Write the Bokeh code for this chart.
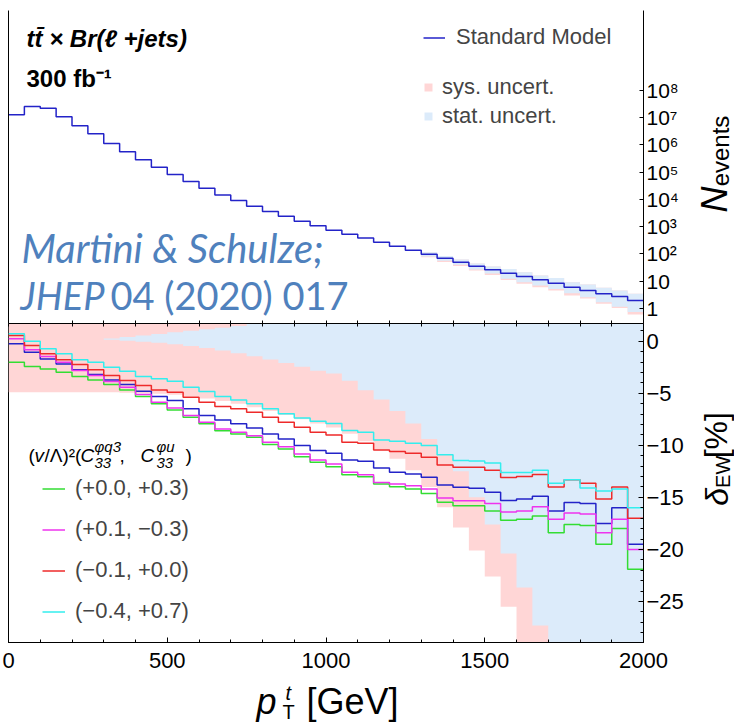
import math
from bokeh.plotting import figure
from bokeh.models import Range1d, LinearAxis, FixedTicker, Legend, LegendItem, Label
from bokeh.layouts import column, row
from bokeh.embed import file_html
from bokeh.resources import INLINE
from bokeh.core.properties import value

FONT = "Liberation Sans"

# ---------------- data ----------------
bin_edges = [0, 50, 100, 150, 200, 250, 300, 350, 400, 450, 500, 550, 600, 650, 700, 750,
             800, 850, 900, 950, 1000, 1050, 1100, 1150, 1200, 1250, 1300, 1350, 1400, 1450,
             1500, 1550, 1600, 1650, 1700, 1750, 1800, 1850, 1900, 1950, 2000]

# Standard Model event counts per bin (top panel)
sm_events = [1.26e7, 2.51e7, 2.19e7, 1.07e7, 5.0e6, 2.51e6, 1.12e6, 5.6e5, 2.8e5, 1.51e5,
             8.1e4, 4.5e4, 2.57e4, 1.45e4, 9.1e3, 5.6e3, 3.6e3, 2.4e3, 1.58e3, 1.07e3,
             740, 525, 380, 270, 190, 135, 98, 69, 50, 35.5,
             26.3, 19.5, 14.8, 11.2, 8.5, 6.0, 4.6, 3.5, 2.75, 1.95]

# uncertainty bands of the top panel (bins from 1300 GeV on)
band_edges = [1300, 1350, 1400, 1450, 1500, 1550, 1600, 1650, 1700, 1750, 1800, 1850, 1900, 1950, 2000]
sm_stat_hi = [115, 83, 62, 45, 34.7, 28.2, 21.4, 16.2, 13.2, 9.1, 7.6, 5.75, 4.6, 3.5]
sm_stat_lo = [81, 56, 40, 27, 19, 12.3, 9.1, 6.9, 5.2, 3.6, 2.6, 1.7, 1.17, 0.74]
sm_sys_lo = [76, 51, 36, 24.5, 17, 11, 8.1, 6.0, 4.6, 3.0, 2.3, 1.48, 1.05, 0.60]

# delta_EW [%] per bin (bottom panel)
delta_sm = [-0.25, -1.05, -1.70, -2.18, -2.75, -3.2, -3.72, -4.16, -4.8, -5.32,
            -5.70, -6.5, -7.14, -7.56, -7.94, -8.33, -8.91, -9.39, -10.03, -10.51,
            -10.77, -11.41, -11.53, -12.18, -12.59, -12.75, -13.07, -13.81, -14.03, -14.13,
            -14.5, -15.3, -15.15, -14.9, -16.3, -15.5, -15.6, -17.5, -16.0, -19.5]
delta_green = [-2.02, -2.43, -2.66, -2.98, -3.4, -3.72, -4.16, -4.68, -5.32, -6.02,
               -6.6, -7.3, -7.94, -8.59, -8.91, -9.23, -9.93, -10.35, -11.09, -11.63,
               -12.05, -12.82, -13.01, -13.72, -13.97, -14.2, -14.62, -15.48, -15.8, -15.8,
               -16.3, -17.2, -17.1, -16.8, -18.4, -17.6, -17.7, -19.5, -18.0, -21.9]
delta_magenta = [0.23, -0.83, -1.47, -2.02, -2.82, -3.3, -3.88, -4.42, -5.13, -5.86,
                 -6.41, -7.14, -7.78, -8.43, -8.75, -9.07, -9.71, -10.13, -10.83, -11.41,
                 -11.8, -12.59, -12.82, -13.56, -13.72, -13.88, -14.2, -15.06, -15.32, -15.32,
                 -15.6, -16.4, -16.3, -15.9, -17.1, -16.5, -16.6, -18.4, -17.1, -20.0]
delta_red = [0.55, -0.41, -1.21, -1.79, -2.24, -2.75, -3.3, -3.78, -4.26, -4.68,
             -4.90, -5.38, -5.86, -6.28, -6.5, -6.82, -7.3, -7.78, -8.27, -8.75,
             -9.0, -9.71, -9.8, -10.44, -10.6, -10.77, -11.15, -11.89, -12.11, -12.11,
             -12.4, -13.1, -13.0, -12.8, -14.0, -13.3, -13.65, -15.15, -14.0, -17.0]
delta_cyan = [0.71, 0.0, -0.73, -1.21, -1.79, -2.02, -2.5, -2.88, -3.4, -3.6,
              -3.84, -4.42, -4.84, -5.32, -5.64, -6.02, -6.5, -6.98, -7.37, -7.69,
              -7.9, -8.58, -8.75, -9.48, -9.6, -9.8, -10.03, -10.9, -11.47, -11.5,
              -11.7, -12.6, -12.6, -12.4, -13.65, -13.3, -14.1, -14.4, -14.2, -16.0]

# uncertainty bands of the bottom panel [%]
stat_lo = [0.05, 0.05, 0.05, 0.05, 0.05, 0.05, 0.15, 0.05, -0.05, -0.15,
           -0.3, -0.45, -0.65, -0.9, -1.15, -1.45, -1.75, -2.1, -2.45, -2.85,
           -3.1, -3.8, -4.7, -5.6, -6.7, -7.9, -9.4, -10.9, -12.5, -15.0,
           -17.6, -20.4, -23.65, -27.3, -31, -34, -37, -40, -43, -46]
stat_hi = [0.05, 0.05, 0.05, 0.05, 0.05, 0.05, 0.25, 0.4, 0.55, 0.7,
           0.87, 1.0, 1.15, 1.3, 1.45, 1.65, 1.9, 2.2, 2.5, 2.9,
           3.2, 3.8, 4.7, 5.6, 6.7, 7.9, 9.4, 10.9, 12.5, 15.0,
           17.6, 20.4, 23.65, 27.3, 31, 34, 37, 40, 43, 46]
sys_lo = [-4.9, -4.9, -4.9, -4.9, -4.9, -4.9, -4.9, -4.95, -5.0, -5.05,
          -5.15, -5.3, -5.5, -5.75, -6.0, -6.35, -6.7, -7.1, -7.5, -7.9,
          -8.3, -8.9, -9.6, -10.4, -11.3, -12.4, -14.0, -15.96, -17.9, -20.1,
          -22.6, -25.5, -30, -32, -34, -36, -38, -40, -42, -44]
sys_hi = [4.9, 4.9, 4.9, 4.9, 4.9, 4.9, 4.9, 4.95, 5.0, 5.05,
          5.15, 5.3, 5.5, 5.75, 6.0, 6.35, 6.7, 7.1, 7.5, 7.9,
          8.3, 8.9, 9.6, 10.4, 11.3, 12.4, 14.0, 15.96, 17.9, 20.1,
          22.6, 25.5, 30, 32, 34, 36, 38, 40, 42, 44]

series_labels = ["(+0.0, +0.3)", "(+0.1, \u22120.3)", "(\u22120.1, +0.0)", "(\u22120.4, +0.7)"]

x_ticks = [0, 500, 1000, 1500, 2000]
x_minor = [0, 100, 200, 300, 400, 500, 600, 700, 800, 900, 1000, 1100, 1200, 1300, 1400,
           1500, 1600, 1700, 1800, 1900, 2000]
y_top_ticks = [1, 10, 100, 1000, 10000, 100000, 1000000, 10000000, 100000000]
y_top_labels = ["1", "10", "10\u00b2", "10\u00b3", "10\u2074", "10\u2075", "10\u2076", "10\u2077", "10\u2078"]
y_bot_ticks = [-25, -20, -15, -10, -5, 0]
y_bot_labels = ["\u221225", "\u221220", "\u221215", "\u221210", "\u22125", "0"]
y_bot_minor = list(range(-28, 2))

# ---------------- style ----------------
PINK = "#ffd6d6"
LBLUE = "#dcebfa"
C_SM = "#2323c8"
C_GREEN = "#33dd33"
C_MAGENTA = "#ee33ee"
C_RED = "#ee2a2a"
C_CYAN = "#33eeee"

LB = 8          # left border (page margin of the reference)
FW = 635        # frame width
RB = 47         # right border for tick labels
MAIN_W = LB + FW + RB
SIDE_W = 734 - MAIN_W
TOP_H = 323
BOT_H = 357
XT_H = 722 - TOP_H - BOT_H


def pad(v):
    return list(v) + [v[-1]]


def style_axis(ax, size="21px"):
    ax.axis_line_color = "black"
    ax.axis_line_width = 1
    ax.major_tick_line_color = "black"
    ax.minor_tick_line_color = "black"
    ax.major_label_text_font = FONT
    ax.major_label_text_font_size = size
    ax.major_label_text_color = "black"


def add_label(p, text, sx, sy, size, style="normal", font=FONT, color="black",
              align="left", baseline="middle"):
    p.add_layout(Label(x=sx, y=sy, x_units="screen", y_units="screen", text=text,
                       text_font=font, text_font_size=size, text_font_style=style,
                       text_color=color, text_align=align, text_baseline=baseline))


def blank_fig(w, h):
    f = figure(width=w, height=h, x_range=Range1d(0, w), y_range=Range1d(0, h),
               x_axis_type=None, y_axis_type=None, output_backend="svg",
               toolbar_location=None, min_border=0)
    f.grid.visible = False
    f.outline_line_color = None
    return f


def add_text(f, text, x, y, size, style="normal", align="left", baseline="middle", angle=0.0):
    f.text(x=[x], y=[y], text=[text], angle=angle, text_font=value(FONT),
           text_font_size=value(size), text_font_style=value(style),
           text_color="black", text_align=value(align), text_baseline=value(baseline))


# ---------------- top panel ----------------
p1 = figure(width=MAIN_W, height=TOP_H, x_range=Range1d(0, 2000),
            y_range=Range1d(10 ** -0.55, 10 ** 10.92), y_axis_type="log",
            y_axis_location="right", output_backend="svg", toolbar_location=None,
            min_border_left=LB, min_border_right=RB, min_border_top=10, min_border_bottom=0)
p1.grid.visible = False
p1.outline_line_color = None

ya = p1.yaxis[0]
ya.ticker = FixedTicker(ticks=y_top_ticks, minor_ticks=[])
ya.major_label_overrides = dict(zip(y_top_ticks, y_top_labels))
ya.major_tick_in = 4
ya.major_tick_out = 0
ya.minor_tick_in = 0
ya.minor_tick_out = 0
ya.major_label_standoff = 3
style_axis(ya)

xa1 = p1.xaxis[0]
xa1.ticker = FixedTicker(ticks=[], minor_ticks=x_minor)
xa1.major_tick_in = 0
xa1.major_tick_out = 0
xa1.minor_tick_in = 3
xa1.minor_tick_out = 0
xa1.major_label_standoff = 0
style_axis(xa1)

la1 = LinearAxis(ticker=FixedTicker(ticks=[], minor_ticks=[]), major_tick_in=0, major_tick_out=0,
                 minor_tick_in=0, minor_tick_out=0, major_label_standoff=0,
                 axis_line_color="black")
p1.add_layout(la1, "left")

r_sys_top = p1.varea_step(x=band_edges, y1=pad(sm_sys_lo), y2=pad(sm_stat_hi), step_mode="after",
                          fill_color=PINK)
r_stat_top = p1.varea_step(x=band_edges, y1=pad(sm_stat_lo), y2=pad(sm_stat_hi), step_mode="after",
                           fill_color=LBLUE)
sm_line = p1.step(x=bin_edges, y=pad(sm_events), mode="after", line_color=C_SM, line_width=1.5)

leg1 = Legend(items=[LegendItem(label="Standard Model", renderers=[sm_line])],
              location=(415, 273), orientation="vertical", padding=0, margin=0,
              glyph_width=22, glyph_height=25, label_standoff=11,
              label_text_font=FONT, label_text_font_size="22px",
              background_fill_alpha=0, border_line_alpha=0)
leg2 = Legend(items=[LegendItem(label="sys. uncert.", renderers=[r_sys_top]),
                     LegendItem(label="stat. uncert.", renderers=[r_stat_top])],
              location=(415, 194), orientation="vertical", padding=0, margin=0, spacing=3,
              glyph_width=10, glyph_height=10, label_standoff=9,
              label_text_font=FONT, label_text_font_size="22px",
              background_fill_alpha=0, border_line_alpha=0)
p1.add_layout(leg1)
p1.add_layout(leg2)

# texts of the top panel (screen units from the frame's bottom-left corner)
add_label(p1, "tt\u0304 \u00d7 Br(\u2113 +jets)", 18, 285, "24px", "bold italic")
add_label(p1, "300 fb\u207b\u00b9", 18, 245, "24px", "bold")
add_label(p1, "Martini & Schulze;", 13, 76, "40px", "italic", font="Lato", color="#4f81bd")
add_label(p1, "JHEP", 12, 29, "38px", "italic", font="Lato", color="#4f81bd")
add_label(p1, "04 (2020) 017", 102, 29, "38px", "normal", font="Lato", color="#4f81bd")

# ---------------- bottom panel ----------------
p2 = figure(width=MAIN_W, height=BOT_H, x_range=p1.x_range, y_range=Range1d(-28.94, 1.70),
            y_axis_location="right", output_backend="svg", toolbar_location=None,
            min_border_left=LB, min_border_right=RB, min_border_top=0, min_border_bottom=38)
p2.grid.visible = False
p2.outline_line_color = "black"
p2.outline_line_width = 1

yb = p2.yaxis[0]
yb.ticker = FixedTicker(ticks=y_bot_ticks, minor_ticks=y_bot_minor)
yb.major_label_overrides = dict(zip(y_bot_ticks, y_bot_labels))
yb.major_tick_in = 5
yb.major_tick_out = 0
yb.minor_tick_in = 3
yb.minor_tick_out = 0
yb.major_label_standoff = 3
style_axis(yb, "22px")

xb = p2.xaxis[0]
xb.ticker = FixedTicker(ticks=x_ticks, minor_ticks=x_minor)
xb.major_tick_in = 5
xb.major_tick_out = 0
xb.minor_tick_in = 3
xb.minor_tick_out = 0
xb.major_label_standoff = 10
style_axis(xb, "22px")

ta2 = LinearAxis(ticker=FixedTicker(ticks=[], minor_ticks=x_minor), major_tick_in=0,
                 major_tick_out=0, minor_tick_in=3, minor_tick_out=0, major_label_standoff=0,
                 axis_line_color="black")
p2.add_layout(ta2, "above")

p2.varea_step(x=bin_edges, y1=pad(sys_lo), y2=pad(sys_hi), step_mode="after", fill_color=PINK)
p2.varea_step(x=bin_edges, y1=pad(stat_lo), y2=pad(stat_hi), step_mode="after", fill_color=LBLUE)

p2.step(x=bin_edges, y=pad(delta_sm), mode="after", line_color=C_SM, line_width=1.5)
r_green = p2.step(x=bin_edges, y=pad(delta_green), mode="after", line_color=C_GREEN, line_width=1.5)
r_mag = p2.step(x=bin_edges, y=pad(delta_magenta), mode="after", line_color=C_MAGENTA, line_width=1.5)
r_red = p2.step(x=bin_edges, y=pad(delta_red), mode="after", line_color=C_RED, line_width=1.5)
r_cyan = p2.step(x=bin_edges, y=pad(delta_cyan), mode="after", line_color=C_CYAN, line_width=1.5)

leg3 = Legend(items=[LegendItem(label=series_labels[0], renderers=[r_green]),
                     LegendItem(label=series_labels[1], renderers=[r_mag]),
                     LegendItem(label=series_labels[2], renderers=[r_red]),
                     LegendItem(label=series_labels[3], renderers=[r_cyan])],
              location=(34, 18), orientation="vertical", padding=0, margin=0, spacing=15,
              glyph_width=23, glyph_height=25, label_standoff=10,
              label_text_font=FONT, label_text_font_size="22px",
              background_fill_alpha=0, border_line_alpha=0)
p2.add_layout(leg3)

# legend title (v/Λ)^2 (C33^φq3, C33^φu)
add_label(p2, "(", 20, 187, "19px")
add_label(p2, "v", 26, 187, "19px", "italic")
add_label(p2, "/\u039b)\u00b2(", 36, 187, "19px")
add_label(p2, "C", 72, 187, "19px", "italic")
add_label(p2, "\u03c6q3", 86, 196, "15px", "italic")
add_label(p2, "33", 86, 180, "15px", "italic")
add_label(p2, ",", 111, 187, "19px")
add_label(p2, "C", 132, 187, "19px", "italic")
add_label(p2, "\u03c6u", 148, 196, "15px", "italic")
add_label(p2, "33", 148, 180, "15px", "italic")
add_label(p2, ")", 177, 187, "19px")

# ---------------- axis titles (separate strips) ----------------
rt = blank_fig(SIDE_W, TOP_H)
add_text(rt, "N", 23.5, 128, "36px", "italic", align="center", angle=math.pi / 2)
add_text(rt, "events", 29.5, 178, "24px", align="center", angle=math.pi / 2)

rb = blank_fig(SIDE_W, BOT_H)
add_text(rb, "\u03b4", 26, 163, "32px", "italic", align="center", angle=math.pi / 2)
add_text(rb, "EW", 32.5, 191, "20px", align="center", angle=math.pi / 2)
add_text(rb, "[%]", 25, 232, "32px", align="center", angle=math.pi / 2)

xt = blank_fig(734, XT_H)
add_text(xt, "p", 256, 21, "36px", "italic")
add_text(xt, "t", 285, 30, "20px", "italic")
add_text(xt, "T", 282, 11, "20px")
add_text(xt, "[GeV]", 306, 21, "36px")

layout = column(row(p1, rt, spacing=0), row(p2, rb, spacing=0), xt, spacing=0)
open("out.html", "w").write(file_html(layout, INLINE))
